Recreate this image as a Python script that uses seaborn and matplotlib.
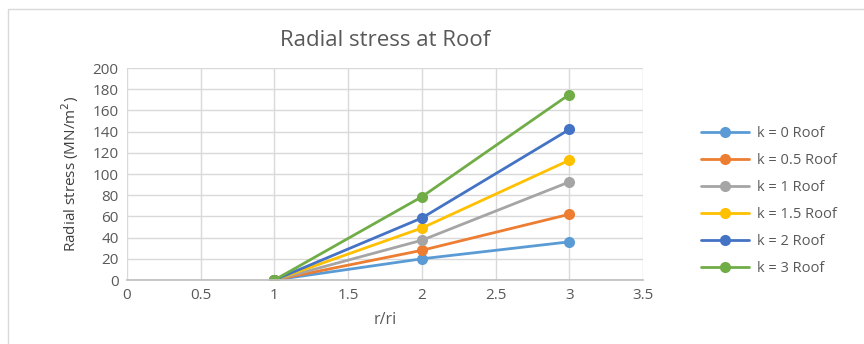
import matplotlib
matplotlib.use("Agg")
import matplotlib.pyplot as plt
import seaborn as sns
import pandas as pd
from matplotlib.patches import Rectangle

# r/ri positions and radial stress (MN/m^2) for each k value at the roof
r_ri = [1, 2, 3]
k0 = [0, 20, 36]
k05 = [0, 28, 62]
k1 = [0, 37.5, 92.5]
k15 = [0, 49, 113]
k2 = [0, 58.5, 142]
k3 = [0, 78.5, 175]
labels = ["k = 0 Roof", "k = 0.5 Roof", "k = 1 Roof", "k = 1.5 Roof", "k = 2 Roof", "k = 3 Roof"]
colors = ["#5B9BD5", "#ED7D31", "#A5A5A5", "#FFC000", "#4472C4", "#70AD47"]

series = [k0, k05, k1, k15, k2, k3]
df = pd.concat(
    [pd.DataFrame({"r/ri": r_ri, "stress": s, "series": lab}) for s, lab in zip(series, labels)],
    ignore_index=True,
)

sns.set_theme(style="white")
plt.rcParams["font.family"] = ["Open Sans", "DejaVu Sans"]

fig = plt.figure(figsize=(8.64, 3.44), dpi=100)
fig.patch.set_facecolor("white")
# chart frame
fig.add_artist(Rectangle((8 / 864, -0.01), 1.0, 1 - 9 / 344 + 0.01, transform=fig.transFigure,
                         fill=False, edgecolor="#D9D9D9", linewidth=1))

ax = fig.add_axes([127 / 864, 1 - 280 / 344, (643 - 127) / 864, (280 - 68) / 344])
sns.lineplot(data=df, x="r/ri", y="stress", hue="series", palette=colors, marker="o",
             markersize=8, markeredgewidth=0, linewidth=2, ax=ax, legend=True)

ax.set_xlim(0, 3.5)
ax.set_ylim(0, 200)
ax.set_xticks([0, 0.5, 1, 1.5, 2, 2.5, 3, 3.5])
ax.set_xticklabels(["0", "0.5", "1", "1.5", "2", "2.5", "3", "3.5"])
ax.set_yticks(range(0, 201, 20))
ax.grid(True, color="#D9D9D9", linewidth=1)
ax.set_axisbelow(True)
for side in ["top", "right", "left"]:
    ax.spines[side].set_visible(False)
ax.spines["bottom"].set_color("#BFBFBF")
ax.tick_params(axis="both", length=0, labelsize=11, colors="#595959", pad=6)

ax.set_xlabel("r/ri", fontsize=11.5, color="#595959", labelpad=6)
ax.set_ylabel("Radial stress (MN/m$^2$)", fontsize=11, color="#404040", labelpad=8)
ax.set_title("Radial stress at Roof", fontsize=16, color="#595959", pad=16)

handles, labs = ax.get_legend_handles_labels()
ax.get_legend().remove()
fig.legend(handles, labs, loc="center left", bbox_to_anchor=(688 / 864, 1 - 201 / 344),
           frameon=False, fontsize=10.5, handlelength=3.3, labelspacing=0.82,
           handletextpad=0.5, labelcolor="#595959")

fig.savefig("out.png", dpi=100)
